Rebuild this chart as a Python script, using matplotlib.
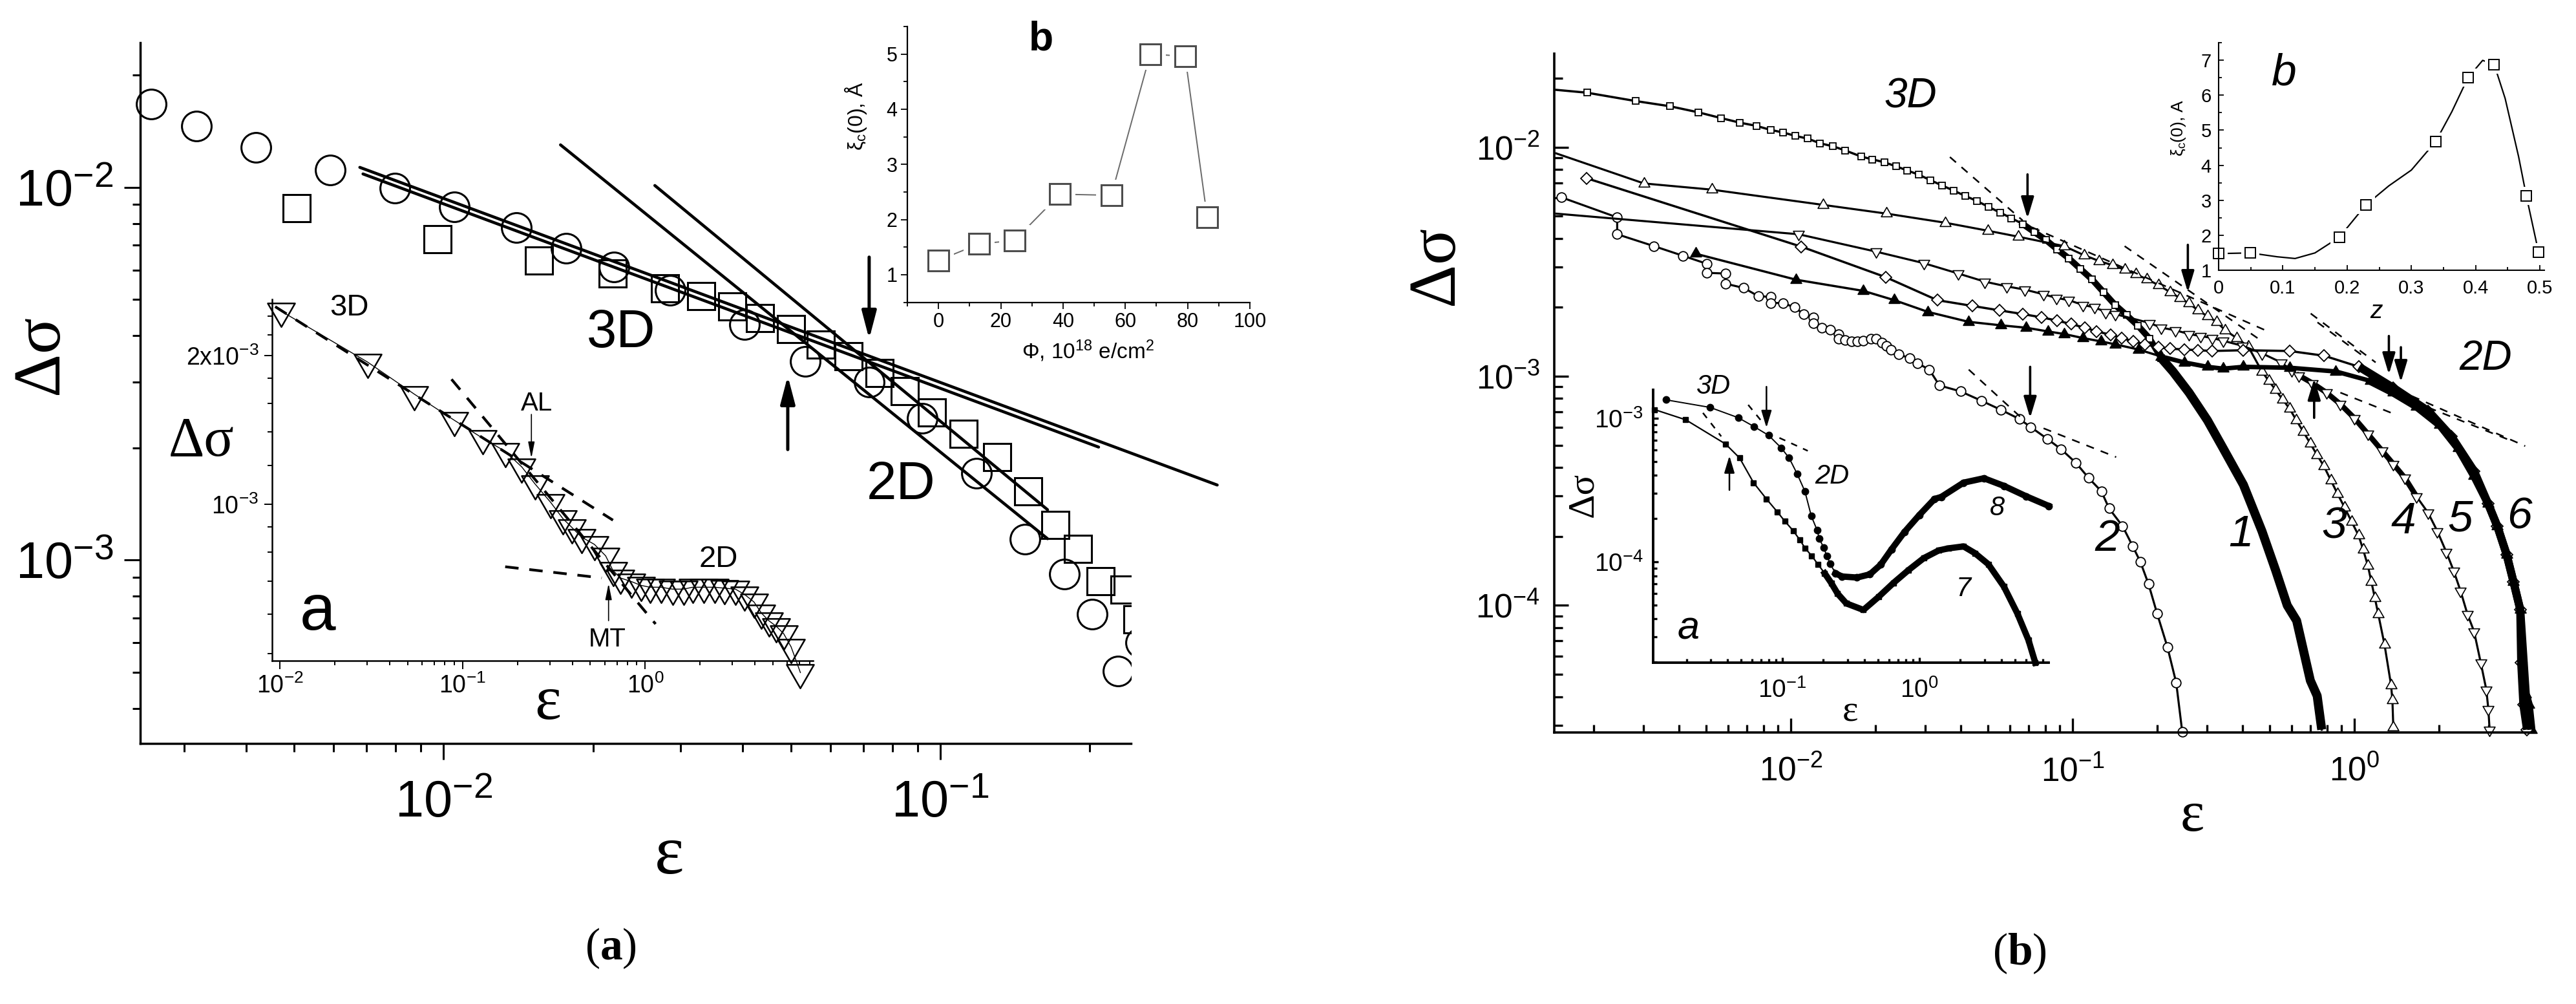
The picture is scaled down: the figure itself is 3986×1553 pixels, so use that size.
import numpy as np
import matplotlib
matplotlib.use("Agg")
import matplotlib.pyplot as plt
from matplotlib.path import Path
from matplotlib.patches import Rectangle
from matplotlib.ticker import (LogLocator, NullFormatter, FixedLocator, FixedFormatter,
                               MultipleLocator, FuncFormatter)

plt.rcParams["font.family"] = ["Liberation Sans", "DejaVu Sans"]
plt.rcParams["mathtext.default"] = "regular"
plt.rcParams["mathtext.fontset"] = "custom"
plt.rcParams["mathtext.rm"] = "Liberation Serif"
plt.rcParams["mathtext.bf"] = "Liberation Serif:bold"

# ---------------- panel (a) data ----------------
a_circ_eps = [2.58e-3, 3.18e-3, 4.19e-3, 5.91e-3, 7.98e-3, 1.052e-2, 1.399e-2, 1.762e-2, 2.20e-2, 2.855e-2,
              4.04e-2, 5.35e-2, 7.19e-2, 9.20e-2, 0.1183, 0.148, 0.1777, 0.2021, 0.253, 0.2279]
a_circ_sig = [1.675e-2, 1.462e-2, 1.28e-2, 1.114e-2, 9.96e-3, 8.87e-3, 7.81e-3, 6.88e-3, 6.12e-3, 5.30e-3,
              4.28e-3, 3.42e-3, 3.0e-3, 2.40e-3, 1.71e-3, 1.14e-3, 9.18e-4, 7.16e-4, 6.01e-4, 5.04e-4]
a_sq_eps = [5.06e-3, 9.73e-3, 1.556e-2, 2.19e-2, 2.79e-2, 3.30e-2, 3.81e-2, 4.34e-2, 5.01e-2, 5.75e-2, 6.53e-2,
            7.55e-2, 8.48e-2, 9.62e-2, 0.1114, 0.1301, 0.1502, 0.1704, 0.1892, 0.2101, 0.2348, 0.2492]
a_sq_sig = [8.8e-3, 7.27e-3, 6.37e-3, 5.88e-3, 5.37e-3, 5.10e-3, 4.80e-3, 4.46e-3, 4.16e-3, 3.79e-3, 3.52e-3,
            3.18e-3, 2.84e-3, 2.49e-3, 2.18e-3, 1.89e-3, 1.53e-3, 1.24e-3, 1.07e-3, 8.78e-4, 8.34e-4, 6.94e-4]
# power-law fits (end points)
a_fit_eps = [(6.78e-3, 0.361), (6.88e-3, 0.2083), (1.719e-2, 0.1644), (2.662e-2, 0.1644)]
a_fit_sig = [(1.132e-2, 1.59e-3), (1.087e-2, 2.01e-3), (1.301e-2, 1.141e-3), (1.012e-2, 1.365e-3)]
a_arrow_eps = [0.0719, 0.0493]
a_arrow_from = [6.5e-3, 1.98e-3]
a_arrow_to = [3.92e-3, 3.12e-3]

# inset a of panel (a)
ia_eps = [0.0101, 0.0301, 0.0544, 0.0898, 0.129, 0.171, 0.211, 0.249, 0.303, 0.354, 0.398, 0.447, 0.527,
          0.607, 0.666, 0.731, 0.841, 0.946, 1.06, 1.22, 1.41, 1.62, 1.82, 2.10, 2.41, 2.71, 3.12, 3.51,
          3.94, 4.33, 4.75, 5.22, 5.73, 6.30, 7.08]
ia_sig = [2.46e-3, 1.94e-3, 1.67e-3, 1.48e-3, 1.36e-3, 1.28e-3, 1.19e-3, 1.10e-3, 1.01e-3, 9.36e-4, 8.97e-4,
          8.59e-4, 8.30e-4, 7.87e-4, 7.35e-4, 7.10e-4, 6.98e-4, 6.86e-4, 6.80e-4, 6.80e-4, 6.74e-4, 6.74e-4,
          6.80e-4, 6.80e-4, 6.80e-4, 6.77e-4, 6.74e-4, 6.57e-4, 6.35e-4, 6.03e-4, 5.82e-4, 5.67e-4, 5.48e-4,
          5.15e-4, 4.57e-4]
ia_dash_eps = [(9.4e-3, 0.666), (0.0869, 1.14), (0.171, 0.578)]
ia_dash_sig = [(2.51e-3, 9.29e-4), (1.79e-3, 5.73e-4), (7.48e-4, 7.1e-4)]

# inset b of panel (a)
ib_phi = [0, 13.1, 24.4, 39, 55.5, 68, 79.2, 86.3]
ib_xi = [1.26, 1.56, 1.62, 2.46, 2.44, 5.0, 4.96, 2.04]

# ---------------- panel (b) data ----------------
eps1 = [1.47e-3, 1.89e-3, 2.82e-3, 3.72e-3, 4.70e-3, 5.66e-3, 6.59e-3, 7.54e-3, 8.48e-3, 9.38e-3, 1.04e-2,
        1.15e-2, 1.27e-2, 1.41e-2, 1.56e-2, 1.78e-2, 1.95e-2, 2.15e-2, 2.36e-2, 2.59e-2, 2.85e-2, 3.13e-2,
        3.44e-2, 3.78e-2, 4.16e-2, 4.57e-2, 5.02e-2, 5.52e-2, 6.07e-2, 6.66e-2, 7.32e-2, 8.04e-2, 8.83e-2,
        9.71e-2, 0.1067, 0.1172, 0.1288, 0.1415, 0.1555, 0.1709, 0.1878, 0.2065, 0.227, 0.259, 0.301, 0.342,
        0.404, 0.470, 0.526, 0.578, 0.624, 0.698, 0.738, 0.766]
sig1 = [1.78e-2, 1.73e-2, 1.59e-2, 1.51e-2, 1.42e-2, 1.34e-2, 1.28e-2, 1.24e-2, 1.19e-2, 1.16e-2, 1.12e-2,
        1.09e-2, 1.04e-2, 1.01e-2, 9.68e-3, 9.10e-3, 8.85e-3, 8.59e-3, 8.26e-3, 7.92e-3, 7.58e-3, 7.18e-3,
        6.81e-3, 6.47e-3, 6.13e-3, 5.83e-3, 5.50e-3, 5.19e-3, 4.90e-3, 4.62e-3, 4.26e-3, 3.94e-3, 3.58e-3,
        3.27e-3, 2.94e-3, 2.65e-3, 2.33e-3, 2.05e-3, 1.85e-3, 1.66e-3, 1.46e-3, 1.20e-3, 1.05e-3, 8.49e-4,
        6.43e-4, 4.86e-4, 3.36e-4, 2.11e-4, 1.42e-4, 1.00e-4, 8.58e-5, 4.70e-5, 4.03e-5, 2.87e-5]
eps2 = [1.53e-3, 2.42e-3, 2.42e-3, 3.27e-3, 4.14e-3, 5.03e-3, 5.03e-3, 5.85e-3, 5.85e-3, 6.81e-3, 7.66e-3,
        8.48e-3, 8.48e-3, 9.38e-3, 1.03e-2, 1.11e-2, 1.20e-2, 1.20e-2, 1.29e-2, 1.38e-2, 1.48e-2, 1.48e-2,
        1.555e-2, 1.64e-2, 1.72e-2, 1.81e-2, 1.92e-2, 2.01e-2, 2.11e-2, 2.19e-2, 2.27e-2, 2.41e-2, 2.64e-2,
        2.82e-2, 3.10e-2, 3.37e-2, 4.00e-2, 4.74e-2, 5.57e-2, 6.48e-2, 7.11e-2, 8.12e-2, 9.10e-2, 0.1028,
        0.114, 0.1265, 0.1348, 0.1504, 0.1636, 0.174, 0.186, 0.1995, 0.217, 0.2333, 0.245]
sig2 = [6.05e-3, 4.94e-3, 4.17e-3, 3.70e-3, 3.36e-3, 3.10e-3, 2.83e-3, 2.81e-3, 2.54e-3, 2.43e-3, 2.24e-3,
        2.22e-3, 2.09e-3, 2.09e-3, 2.00e-3, 1.87e-3, 1.81e-3, 1.70e-3, 1.63e-3, 1.60e-3, 1.53e-3, 1.46e-3,
        1.44e-3, 1.42e-3, 1.42e-3, 1.43e-3, 1.46e-3, 1.46e-3, 1.40e-3, 1.36e-3, 1.31e-3, 1.25e-3, 1.20e-3,
        1.14e-3, 1.07e-3, 9.12e-4, 8.60e-4, 7.83e-4, 7.14e-4, 6.51e-4, 6.00e-4, 5.34e-4, 4.81e-4, 4.19e-4,
        3.60e-4, 3.15e-4, 2.65e-4, 2.22e-4, 1.81e-4, 1.55e-4, 1.24e-4, 9.22e-5, 6.59e-5, 4.59e-5, 2.81e-5]
eps3 = [1.47e-3, 3.01e-3, 5.24e-3, 1.305e-2, 2.19e-2, 3.54e-2, 5.01e-2, 6.41e-2, 9.35e-2, 0.1097, 0.124,
        0.139, 0.153, 0.168, 0.184, 0.202, 0.222, 0.240, 0.259, 0.279, 0.301, 0.324, 0.348, 0.382, 0.420,
        0.470, 0.497, 0.526, 0.556, 0.589, 0.622, 0.659, 0.697, 0.737, 0.780, 0.825, 0.873, 0.924, 0.978,
        1.035, 1.075, 1.117, 1.149, 1.182, 1.216, 1.28, 1.35, 1.365, 1.375]
sig3 = [9.4e-3, 6.95e-3, 6.53e-3, 5.60e-3, 5.13e-3, 4.68e-3, 4.32e-3, 4.07e-3, 3.70e-3, 3.38e-3, 3.19e-3,
        3.05e-3, 2.92e-3, 2.79e-3, 2.65e-3, 2.50e-3, 2.33e-3, 2.20e-3, 2.08e-3, 1.94e-3, 1.83e-3, 1.73e-3,
        1.59e-3, 1.47e-3, 1.35e-3, 1.05e-3, 9.55e-4, 8.71e-4, 7.93e-4, 7.23e-4, 6.44e-4, 5.73e-4, 5.10e-4,
        4.54e-4, 4.05e-4, 3.52e-4, 3.06e-4, 2.67e-4, 2.32e-4, 2.02e-4, 1.75e-4, 1.49e-4, 1.27e-4, 1.08e-4,
        9.16e-5, 6.73e-5, 4.49e-5, 3.85e-5, 2.94e-5]
eps4 = [1.47e-3, 1.066e-2, 2.01e-2, 2.96e-2, 3.93e-2, 4.88e-2, 5.83e-2, 6.78e-2, 7.89e-2, 8.75e-2, 9.70e-2,
        0.1087, 0.1194, 0.1312, 0.1415, 0.1876, 0.2065, 0.231, 0.259, 0.284, 0.313, 0.342, 0.40, 0.47, 0.55,
        0.60, 0.635, 0.711, 0.796, 0.892, 0.999, 1.118, 1.252, 1.376, 1.512, 1.662, 1.826, 1.97, 2.12, 2.25,
        2.38, 2.52, 2.66, 2.81, 2.94, 2.99, 3.02]
sig4 = [5.13e-3, 4.17e-3, 3.50e-3, 3.12e-3, 2.81e-3, 2.59e-3, 2.47e-3, 2.39e-3, 2.28e-3, 2.20e-3, 2.15e-3,
        2.05e-3, 2.00e-3, 1.91e-3, 1.87e-3, 1.71e-3, 1.63e-3, 1.59e-3, 1.53e-3, 1.50e-3, 1.47e-3, 1.43e-3,
        1.36e-3, 1.26e-3, 1.15e-3, 1.06e-3, 1.01e-3, 9.33e-4, 8.49e-4, 7.56e-4, 6.58e-4, 5.60e-4, 4.75e-4,
        4.14e-4, 3.60e-4, 2.99e-4, 2.54e-4, 2.11e-4, 1.71e-4, 1.42e-4, 1.16e-4, 9.16e-5, 7.70e-5, 5.62e-5,
        4.29e-5, 3.52e-5, 2.87e-5]
eps5 = [1.88e-3, 1.09e-2, 2.17e-2, 3.31e-2, 4.40e-2, 5.51e-2, 6.65e-2, 7.74e-2, 8.83e-2, 9.89e-2, 0.1107,
        0.1217, 0.1362, 0.1496, 0.1644, 0.1806, 0.2023, 0.2224, 0.249, 0.279, 0.313, 0.404, 0.589, 0.781,
        1.04, 1.376, 1.83, 2.21, 2.66, 2.98, 3.22, 3.47, 3.67, 3.88, 3.91, 3.98, 4.10]
sig5 = [7.33e-3, 3.68e-3, 2.71e-3, 2.15e-3, 2.03e-3, 1.94e-3, 1.87e-3, 1.81e-3, 1.75e-3, 1.69e-3, 1.63e-3,
        1.57e-3, 1.52e-3, 1.47e-3, 1.42e-3, 1.38e-3, 1.34e-3, 1.32e-3, 1.31e-3, 1.30e-3, 1.29e-3, 1.30e-3,
        1.29e-3, 1.23e-3, 1.10e-3, 8.91e-4, 7.06e-4, 5.47e-4, 3.86e-4, 2.79e-4, 2.21e-4, 1.67e-4, 1.27e-4,
        9.59e-5, 5.62e-5, 3.68e-5, 2.87e-5]
eps6 = [4.59e-3, 1.045e-2, 1.81e-2, 2.33e-2, 3.07e-2, 4.27e-2, 5.56e-2, 6.84e-2, 8.18e-2, 9.34e-2, 0.1086,
        0.1263, 0.1415, 0.171, 0.2065, 0.249, 0.301, 0.342, 0.404, 0.589, 0.859, 1.14, 1.376, 1.662, 2.01,
        2.335, 2.66, 2.98, 3.22, 3.47, 3.67, 3.88, 4.06, 4.16, 4.25]
sig6 = [3.43e-3, 2.64e-3, 2.36e-3, 2.15e-3, 1.91e-3, 1.73e-3, 1.67e-3, 1.63e-3, 1.57e-3, 1.53e-3, 1.47e-3,
        1.42e-3, 1.38e-3, 1.31e-3, 1.22e-3, 1.15e-3, 1.10e-3, 1.08e-3, 1.10e-3, 1.09e-3, 1.05e-3, 9.55e-4,
        8.49e-4, 7.39e-4, 6.14e-4, 4.86e-4, 3.68e-4, 2.79e-4, 2.21e-4, 1.67e-4, 1.27e-4, 9.59e-5, 4.10e-5,
        3.68e-5, 2.87e-5]
b_dash_eps = [(0.0367, 0.0665), (0.0718, 0.494), (0.153, 0.46), (0.0428, 0.0653), (0.0789, 0.1428),
              (0.70, 1.19), (0.74, 1.10), (0.892, 1.40), (1.60, 4.04), (1.63, 3.54)]
b_dash_sig = [(9.06e-3, 4.79e-3), (4.47e-3, 1.57e-3), (3.7e-3, 1.45e-3), (1.07e-3, 6.65e-4),
              (5.93e-4, 4.44e-4), (1.88e-3, 1.15e-3), (1.72e-3, 1.20e-3), (8.49e-4, 6.81e-4),
              (8.2e-4, 4.96e-4), (7.74e-4, 5.28e-4)]
b_arrow_eps = [0.0692, 0.2565, 0.0707, 0.720, 1.326, 1.463]
b_arrow_from = [7.61e-3, 3.75e-3, 1.10e-3, 6.59e-4, 1.50e-3, 1.34e-3]
b_arrow_to = [4.89e-3, 2.33e-3, 6.58e-4, 9.77e-4, 1.02e-3, 9.44e-4]
b_labels = ["1", "2", "3", "4", "5", "6"]
b_label_eps = [0.395, 0.1327, 0.849, 1.49, 2.38, 3.85]
b_label_sig = [2.04e-4, 1.95e-4, 2.21e-4, 2.32e-4, 2.37e-4, 2.43e-4]

# inset a of panel (b)
eps8 = [0.01413, 0.0298, 0.0477, 0.0625, 0.0797, 0.0984, 0.1124, 0.1285, 0.1465, 0.1633, 0.180, 0.1866,
        0.2006, 0.212, 0.2236, 0.245, 0.273, 0.352, 0.437, 0.524, 0.628, 0.780, 1.004, 1.295, 1.45, 2.11,
        2.97, 4.16, 6.05, 8.83]
sig8 = [1.345e-3, 1.19e-3, 1.01e-3, 8.74e-4, 7.60e-4, 6.22e-4, 5.29e-4, 4.11e-4, 3.10e-4, 2.08e-4, 1.66e-4,
        1.45e-4, 1.26e-4, 1.10e-4, 9.73e-5, 8.32e-5, 7.90e-5, 7.77e-5, 8.18e-5, 9.55e-5, 1.22e-4, 1.61e-4,
        2.12e-4, 2.74e-4, 2.83e-4, 3.56e-4, 3.82e-4, 3.38e-4, 2.86e-4, 2.45e-4]
eps7 = [0.01169, 0.01977, 0.0386, 0.0489, 0.0618, 0.0768, 0.0921, 0.1045, 0.1208, 0.1346, 0.1475, 0.1644,
        0.1833, 0.2043, 0.228, 0.254, 0.294, 0.392, 0.505, 0.650, 0.838, 1.08, 1.39, 1.63, 2.11, 2.55, 3.20,
        4.16, 5.21, 6.29, 7.05]
sig7 = [1.15e-3, 9.76e-4, 6.62e-4, 5.29e-4, 3.56e-4, 2.74e-4, 2.23e-4, 1.92e-4, 1.64e-4, 1.42e-4, 1.24e-4,
        1.10e-4, 9.55e-5, 8.32e-5, 7.13e-5, 6.00e-5, 5.13e-5, 4.62e-5, 5.69e-5, 7.13e-5, 8.77e-5, 1.06e-4,
        1.20e-4, 1.24e-4, 1.28e-4, 1.15e-4, 9.62e-5, 6.71e-5, 4.37e-5, 2.84e-5, 1.98e-5]
ba_dash_eps = [(0.0264, 0.0359), (0.0565, 0.0741), (0.0955, 0.1538)]
ba_dash_sig = [(1.09e-3, 7.48e-4), (1.24e-3, 9.04e-4), (7.30e-4, 5.93e-4)]

# inset b of panel (b)
bb_z = [0, 0.049, 0.188, 0.229, 0.338, 0.388, 0.429, 0.479, 0.498]
bb_xi = [1.47, 1.49, 1.94, 2.86, 4.68, 6.50, 6.88, 3.12, 1.51]
bb_curve_z = [0, 0.049, 0.091, 0.119, 0.150, 0.188, 0.229, 0.265, 0.300, 0.338, 0.363, 0.388, 0.411,
              0.429, 0.446, 0.467, 0.479, 0.498]
bb_curve_xi = [1.47, 1.49, 1.38, 1.33, 1.49, 1.94, 2.86, 3.41, 3.86, 4.68, 5.53, 6.50, 7.00, 6.88, 5.91,
               4.24, 3.12, 1.51]

W, H = 3986, 1553
tri_up = Path([(0, 1), (-0.866, -0.5), (0.866, -0.5), (0, 1)], closed=True)
tri_dn = Path([(0, -1), (-0.866, 0.5), (0.866, 0.5), (0, -1)], closed=True)
g_fmt = FuncFormatter(lambda v, p: "0" if abs(v) < 1e-9 else f"{v:g}")


def add_ax(fig, left, top, right, bottom):
    return fig.add_axes([left / W, 1 - bottom / H, (right - left) / W, (bottom - top) / H])


def frame(ax, lw, direction, maj, mnr, tw, fs, pad):
    ax.set_facecolor("none")
    ax.spines["top"].set_visible(False)
    ax.spines["right"].set_visible(False)
    ax.spines["left"].set_linewidth(lw)
    ax.spines["bottom"].set_linewidth(lw)
    ax.tick_params(which="both", direction=direction, width=tw, labelsize=fs, pad=pad,
                   top=False, right=False)
    ax.tick_params(which="major", length=maj)
    ax.tick_params(which="minor", length=mnr)


def log_ticks(axis):
    axis.set_major_locator(LogLocator(base=10, numticks=15))
    axis.set_minor_locator(LogLocator(base=10, subs=np.arange(2, 10), numticks=15))
    axis.set_minor_formatter(NullFormatter())


def arrow(ax, x, y0, y1, lw, hl, hw, ms=20):
    ax.annotate("", xy=(x, y1), xytext=(x, y0),
                arrowprops=dict(arrowstyle=f"-|>,head_length={hl},head_width={hw}", color="k",
                                lw=lw, shrinkA=0, shrinkB=0, mutation_scale=ms))


def dashed(ax, xs, ys, lw, pat):
    ax.plot(xs, ys, color="k", lw=lw, ls=(0, pat), clip_on=False)


fig = plt.figure(figsize=(W / 100, H / 100), dpi=100)

# ================= panel (a) =================
ax = add_ax(fig, 217, 66, 1750, 1150)
ax.set_xscale("log")
ax.set_yscale("log")
ax.set_xlim(2.45e-3, 0.242)
ax.set_ylim(3.22e-4, 2.446e-2)
frame(ax, 2.5, "out", 18, 9, 2.2, 57, 22)
ax.tick_params(axis="y", pad=12)
log_ticks(ax.xaxis)
log_ticks(ax.yaxis)
clip = Rectangle((-0.1, -0.1), 1.1, 1.3, transform=ax.transAxes)

for xs, ys in zip(a_fit_eps, a_fit_sig):
    ax.plot(xs, ys, color="k", lw=3.3, clip_on=False, solid_capstyle="round")
c_line, = ax.plot(a_circ_eps, a_circ_sig, "o", ms=33, mfc="none", mec="k", mew=2.2)
c_line.set_clip_path(clip)
s_line, = ax.plot(a_sq_eps, a_sq_sig, "s", ms=30, mfc="none", mec="k", mew=2.2)
s_line.set_clip_path(clip)
for x, y0, y1 in zip(a_arrow_eps, a_arrow_from, a_arrow_to):
    arrow(ax, x, y0, y1, 3.6, 1.3, 0.34)
ax.text(0.0228, 4.07e-3, "3D", fontsize=60, ha="center", va="center")
ax.text(0.0833, 1.59e-3, "2D", fontsize=60, ha="center", va="center")

fig.text(64 / W, 1 - 548 / H, "Δσ", rotation=90, fontsize=75, family="Liberation Serif",
         ha="center", va="center")
fig.text(1036 / W, 1 - 1325 / H, "ε", fontsize=78, family="Liberation Serif", ha="center", va="center")
fig.text(945 / W, 1 - 1467 / H, r"($\mathbf{a}$)", fontsize=50, family="Liberation Serif",
         ha="center", va="center")

# inset a
ia = add_ax(fig, 421, 463, 1258, 1022)
ia.set_xscale("log")
ia.set_yscale("log")
ia.set_xlim(9.04e-3, 8.30)
ia.set_ylim(4.83e-4, 2.597e-3)
frame(ia, 1.8, "out", 9, 5, 1.4, 27, 6)
log_ticks(ia.xaxis)
ia.yaxis.set_major_locator(FixedLocator([1e-3, 2e-3]))
ia.yaxis.set_major_formatter(FixedFormatter([r"$10^{-3}$", r"2x$10^{-3}$"]))
ia.yaxis.set_minor_locator(FixedLocator([5e-4, 6e-4, 7e-4, 8e-4, 9e-4, 1.2e-3, 1.4e-3, 1.6e-3, 1.8e-3,
                                         2.2e-3, 2.4e-3]))
ia.yaxis.set_minor_formatter(NullFormatter())
ia.plot(ia_eps, ia_sig, color="k", lw=1, marker=tri_dn, ms=35, mfc="none", mec="k", mew=1.8, clip_on=False)
for xs, ys in zip(ia_dash_eps, ia_dash_sig):
    dashed(ia, xs, ys, 3.0, (5, 4))
arrow(ia, 0.238, 1.52e-3, 1.24e-3, 1.2, 1.0, 0.2, 15)
arrow(ia, 0.63, 5.82e-4, 6.92e-4, 1.2, 1.0, 0.2, 15)
ia.text(0.024, 2.5e-3, "3D", fontsize=34, ha="center", va="center")
ia.text(2.52, 7.74e-4, "2D", fontsize=34, ha="center", va="center")
ia.text(0.255, 1.6e-3, "AL", fontsize=29, ha="center", va="center")
ia.text(0.621, 5.34e-4, "MT", fontsize=29, ha="center", va="center")
ia.text(0.0161, 6.03e-4, "a", fontsize=72, ha="center", va="center")
fig.text(312 / W, 1 - 684 / H, "Δσ", fontsize=62, family="Liberation Serif", ha="center", va="center")
fig.text(848 / W, 1 - 1089 / H, "ε", fontsize=70, family="Liberation Serif", ha="center", va="center")

# inset b
ib = add_ax(fig, 1404, 41, 1934, 467.6)
ib.set_xlim(-10, 100)
ib.set_ylim(0.5, 5.5)
frame(ib, 1.6, "out", 7, 4, 1.3, 22, 4)
ib.xaxis.set_major_locator(MultipleLocator(20))
ib.xaxis.set_minor_locator(MultipleLocator(10))
ib.yaxis.set_major_locator(MultipleLocator(1))
ib.yaxis.set_minor_locator(MultipleLocator(0.5))
ib.xaxis.set_major_formatter(g_fmt)
ib.yaxis.set_major_formatter(g_fmt)
gray = "#4d4d4d"
ib.plot(ib_phi, ib_xi, color="#6a6a6a", lw=1.4)
ib.plot(ib_phi, ib_xi, "s", ms=34, mfc="white", mec="white", mew=0)
ib.plot(ib_phi, ib_xi, "s", ms=23, mfc="white", mec=gray, mew=2.2)
ib.text(33, 5.27, "b", fontsize=45, weight="bold", ha="center", va="center")
fig.text(1684 / W, 1 - 543 / H, r"$\Phi$, 10$^{18}$ e/cm$^{2}$", fontsize=24, ha="center", va="center")
fig.text(1325 / W, 1 - 180 / H, r"$\xi_c$(0), Å", rotation=90, fontsize=23, ha="center", va="center")

# ================= panel (b) =================
bx = add_ax(fig, 2405, 83, 3922, 1133)
bx.set_xscale("log")
bx.set_yscale("log")
bx.set_xlim(1.447e-3, 4.364)
bx.set_ylim(2.789e-5, 2.561e-2)
frame(bx, 2.6, "in", 16, 9, 2.4, 37, 16)
bx.tick_params(axis="x", pad=26)
log_ticks(bx.xaxis)
log_ticks(bx.yaxis)

e1, s1 = np.array(eps1), np.array(sig1)
e4, s4 = np.array(eps4), np.array(sig4)
e5, s5 = np.array(eps5), np.array(sig5)
e6, s6 = np.array(eps6), np.array(sig6)
kw = dict(clip_on=False)
mid1 = (e1 >= 0.066) & (e1 <= 0.21)
bx.plot(e1[mid1], s1[mid1], color="k", lw=7, **kw)
bx.plot(e1, s1, color="k", lw=2.5, marker="s", ms=7.5, mfc="white", mec="k", mew=1.3,
        markevery=list(range(1, 42)), **kw)
tail1 = e1 >= 0.2
bx.plot(e1[tail1], s1[tail1], color="k", lw=10, solid_capstyle="butt", **kw)

bx.plot(eps2, sig2, color="k", lw=2.3, marker="o", ms=10.5, mfc="white", mec="k", mew=1.3, **kw)
bx.plot(eps3, sig3, color="k", lw=2.3, marker=tri_up, ms=14, mfc="white", mec="k", mew=1.2,
        markevery=list(range(1, len(eps3))), **kw)
band4 = (e4 >= 0.63) & (e4 <= 1.7)
bx.plot(e4[band4], s4[band4], color="k", lw=6, **kw)
bx.plot(eps4, sig4, color="k", lw=2.3, marker=tri_dn, ms=14, mfc="white", mec="k", mew=1.2,
        markevery=list(range(1, len(eps4))), **kw)
plat = (e6 >= 0.2) & (e6 <= 1.2)
bx.plot(e6[plat], s6[plat], color="k", lw=5, **kw)
bx.plot(eps6, sig6, color="k", lw=2.5, marker=tri_up, ms=14, mfc="k", mec="k", mew=1.2, **kw)
bx.plot(eps5, sig5, color="k", lw=2.5, marker="D", ms=9, mfc="white", mec="k", mew=1.3, **kw)
tail5 = e5 >= 1.0
tail6 = e6 >= 1.0
bx.plot(e5[tail5], s5[tail5], color="k", lw=9, solid_capstyle="butt", **kw)
bx.plot(e6[tail6], s6[tail6], color="k", lw=9, solid_capstyle="butt", **kw)

for xs, ys in zip(b_dash_eps, b_dash_sig):
    dashed(bx, xs, ys, 1.8, (5, 4.5))
for x, y0, y1 in zip(b_arrow_eps, b_arrow_from, b_arrow_to):
    arrow(bx, x, y0, y1, 2.6, 1.0, 0.3)
bx.text(0.0266, 0.0166, "3D", fontsize=46, style="italic", ha="center", va="center")
bx.text(2.93, 1.19e-3, "2D", fontsize=46, style="italic", ha="center", va="center")
for t, x, y in zip(b_labels, b_label_eps, b_label_sig):
    bx.text(x, y, t, fontsize=50, style="italic", ha="center", va="center")

fig.text(2223 / W, 1 - 410 / H, "Δσ", rotation=90, fontsize=75, family="Liberation Serif",
         ha="center", va="center")
fig.text(3392 / W, 1 - 1263 / H, "ε", fontsize=64, family="Liberation Serif", ha="center", va="center")
fig.text(3125 / W, 1 - 1475 / H, r"($\mathbf{b}$)", fontsize=50, family="Liberation Serif",
         ha="center", va="center")

# inset a of (b)
ba = add_ax(fig, 2558, 603, 3170, 1025)
ba.set_xscale("log")
ba.set_yscale("log")
ba.set_xlim(0.01143, 8.82)
ba.set_ylim(1.983e-5, 1.578e-3)
frame(ba, 2.8, "in", 6, 4, 2.4, 28, 11)
ba.tick_params(axis="x", pad=17)
log_ticks(ba.xaxis)
log_ticks(ba.yaxis)
e7, s7 = np.array(eps7), np.array(sig7)
e8, s8 = np.array(eps8), np.array(sig8)
ba.plot(e7[e7 >= 0.2], s7[e7 >= 0.2], color="k", lw=7, **kw)
ba.plot(e8[e8 >= 0.24], s8[e8 >= 0.24], color="k", lw=7, **kw)
ba.plot(eps7, sig7, color="k", lw=1.6, marker="s", ms=5.5, mfc="k", mec="k", **kw)
ba.plot(eps8, sig8, color="k", lw=1.4, marker="o", ms=7.5, mfc="k", mec="k", **kw)
for xs, ys in zip(ba_dash_eps, ba_dash_sig):
    dashed(ba, xs, ys, 1.8, (4, 4))
arrow(ba, 0.0768, 1.66e-3, 8.59e-4, 1.8, 1.0, 0.3, 16)
arrow(ba, 0.0412, 3.16e-4, 5.48e-4, 1.8, 1.0, 0.3, 16)
ba.text(0.0311, 1.66e-3, "3D", fontsize=30, style="italic", ha="center", va="center")
ba.text(0.232, 3.94e-4, "2D", fontsize=30, style="italic", ha="center", va="center")
ba.text(0.0207, 3.39e-5, "a", fontsize=44, style="italic", ha="center", va="center")
ba.text(2.11, 6.48e-5, "7", fontsize=30, style="italic", ha="center", va="center")
ba.text(3.73, 2.36e-4, "8", fontsize=30, style="italic", ha="center", va="center")
fig.text(2450 / W, 1 - 765 / H, "Δσ", rotation=90, fontsize=42, family="Liberation Serif",
         ha="center", va="center")
fig.text(2863 / W, 1 - 1101 / H, "ε", fontsize=42, family="Liberation Serif", ha="center", va="center")

# inset b of (b)
bb = add_ax(fig, 3433, 65.8, 3937, 417.7)
bb.set_xlim(0, 0.507)
bb.set_ylim(1, 7.51)
frame(bb, 1.5, "in", 6, 3.5, 1.3, 21, 8)
bb.tick_params(axis="x", pad=10)
bb.xaxis.set_major_locator(MultipleLocator(0.1))
bb.xaxis.set_minor_locator(MultipleLocator(0.05))
bb.yaxis.set_major_locator(MultipleLocator(1))
bb.yaxis.set_minor_locator(MultipleLocator(0.5))
bb.xaxis.set_major_formatter(g_fmt)
bb.yaxis.set_major_formatter(g_fmt)
bb.plot(bb_curve_z, bb_curve_xi, color="k", lw=1.6, clip_on=False)
bb.plot(bb_z, bb_xi, "s", ms=20, mfc="white", mec="white", mew=0, clip_on=False)
bb.plot(bb_z, bb_xi, "s", ms=12, mfc="white", mec="k", mew=1.4, clip_on=False)
bb.text(0.1014, 6.62, "b", fontsize=50, style="italic", ha="center", va="center")
fig.text(3677 / W, 1 - 482 / H, "z", fontsize=28, style="italic", ha="center", va="center")
fig.text(3371 / W, 1 - 198 / H, r"$\xi_c$(0), A", rotation=90, fontsize=19, ha="center", va="center")

fig.savefig("out.png", dpi=100)
